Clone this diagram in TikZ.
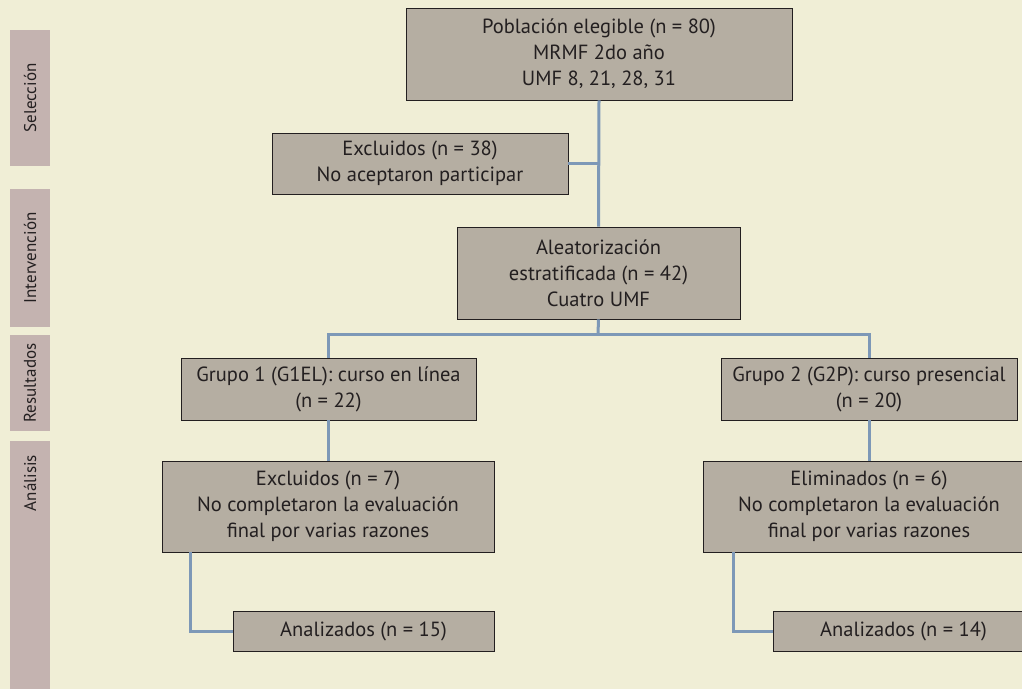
\documentclass[tikz,border=0pt]{standalone}
\usepackage{fontspec}
\setmainfont{PT Sans}
\usetikzlibrary{positioning}
\definecolor{bg}{RGB}{240,238,214}
\definecolor{boxfill}{RGB}{181,174,162}
\definecolor{boxline}{RGB}{35,31,32}
\definecolor{sidefill}{RGB}{196,179,176}
\definecolor{linkc}{RGB}{125,152,183}
\definecolor{txt}{RGB}{35,31,32}

\begin{document}
\begin{tikzpicture}[x=1pt, y=-1pt,
	box/.style = {draw=boxline, fill=boxfill, line width=0.9pt, text=txt, align=center, inner sep=0pt, font=\fontsize{20.5}{26}\selectfont},
	side/.style = {fill=sidefill, text=txt, minimum height=40pt, inner sep=0pt, rotate=90, font=\fontsize{17}{20}\selectfont},
	link/.style = {draw=linkc, line width=3pt}]
		\useasboundingbox (0,0) rectangle (1022,689);
		\fill[bg] (0,0) rectangle (1022,689);
		
		% etapas
		\node[side, minimum width=136pt] (sel) at (30,98) {Selección};
		\node[side, minimum width=138pt] (int) at (30,258) {Intervención};
		\node[side, minimum width=96pt] (res) at (30,383) {Resultados};
		\fill[sidefill] (10,483) rectangle (50,689);
		\node[side, minimum width=84pt] (ana) at (30,483) {Análisis};
		
		% cajas
		\node[box, minimum width=386pt, minimum height=92pt] (pob) at (599,54) {Población elegible (n = 80)\\MRMF 2do año\\UMF 8, 21, 28, 31};
		\node[box, minimum width=296pt, minimum height=61pt] (exc) at (420,163.5) {Excluidos (n = 38)\\No aceptaron participar};
		\node[box, minimum width=283pt, minimum height=92pt] (ale) at (598.5,273) {Aleatorización\\estratificada (n = 42)\\Cuatro UMF};
		\node[box, minimum width=295pt, minimum height=62pt] (g1) at (328.5,389) {Grupo 1 (G1EL): curso en línea\\(n = 22)};
		\node[box, minimum width=296pt, minimum height=62pt] (g2) at (869,389) {Grupo 2 (G2P): curso presencial\\(n = 20)};
		\node[box, minimum width=332pt, minimum height=91pt] (ex7) at (328,506.5) {Excluidos (n = 7)\\No completaron la evaluación\\final por varias razones};
		\node[box, minimum width=332pt, minimum height=91pt] (el6) at (869,506.5) {Eliminados (n = 6)\\No completaron la evaluación\\final por varias razones};
		\node[box, minimum width=261pt, minimum height=40pt] (an1) at (363.5,631) {Analizados (n = 15)};
		\node[box, minimum width=261pt, minimum height=40pt] (an2) at (903.5,631) {Analizados (n = 14)};
		
		% conectores
		\draw[link] (pob.south) -- (ale.north);
		\draw[link] (exc.east) -- (exc.east -| pob.south);
		\draw[link] (ale.south) -- (598,334);
		\draw[link] (g1.north) |- (598,334) -| (g2.north);
		\draw[link] (g1.south) -- (g1.south |- ex7.north);
		\draw[link] (g2.south) -- (g2.south |- el6.north);
		\draw[link] (ex7.south -| 190,0) |- (an1.west);
		\draw[link] (el6.south -| 733,0) |- (an2.west);
	\end{tikzpicture}
\end{document}
